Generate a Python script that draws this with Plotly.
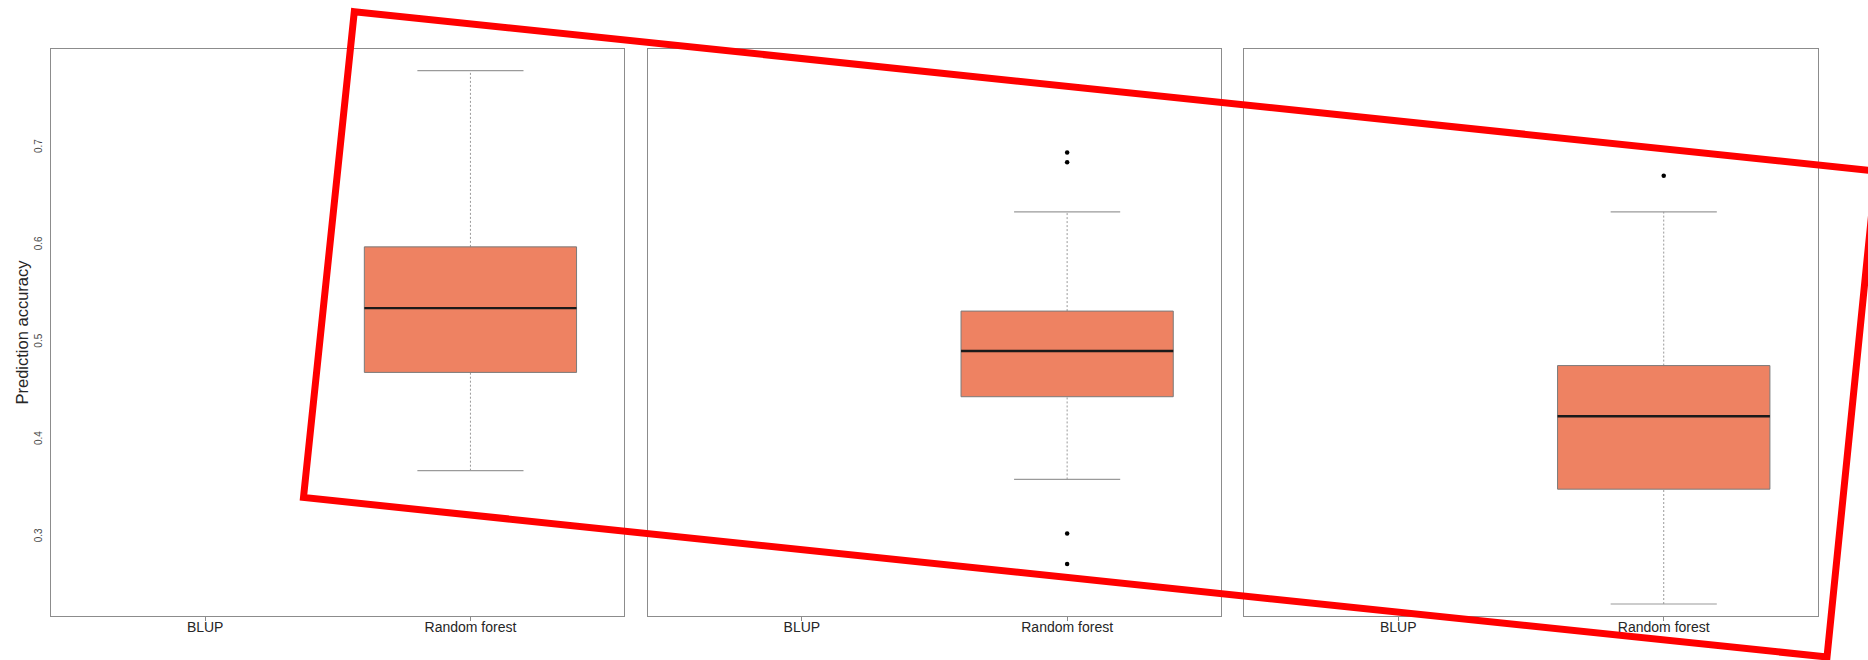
import plotly.graph_objects as go

# Figure size in pixels
W, H = 1868, 660

# Categories on each panel's x axis
categories = ["BLUP", "Random forest"]

# Random forest box statistics for the three panels
rf_lower = [0.368, 0.359, 0.231]
rf_q1 = [0.469, 0.444, 0.349]
rf_median = [0.535, 0.491, 0.424]
rf_q3 = [0.598, 0.532, 0.476]
rf_upper = [0.779, 0.634, 0.634]
rf_outliers = [[], [0.695, 0.685, 0.3035, 0.272], [0.671]]

# y tick labels
y_ticks = [0.3, 0.4, 0.5, 0.6, 0.7]
y_ticktext = ["0.3", "0.4", "0.5", "0.6", "0.7"]

# Panel placement (pixels) and shared value range
panel_px = [(51.3, 624.3), (648.0, 1221.0), (1244.3, 1817.7)]
plot_top, plot_bottom = 49.3, 615.7
y_range = [0.219, 0.801]
x_range = [0.42, 2.58]

box_fill = "#EE8262"
box_line = "#7a7a7a"
frame_col = "#8c8c8c"
whisk_col = "#9a9a9a"
font_fam = "Liberation Sans, Arial, sans-serif"

fig = go.Figure()
shapes = []
layout_axes = {}

rf_pos = categories.index("Random forest") + 1
half_box = 0.4
half_cap = 0.2

for i in range(3):
    xa = "x" if i == 0 else f"x{i + 1}"
    ya = "y" if i == 0 else f"y{i + 1}"
    xkey = "xaxis" if i == 0 else f"xaxis{i + 1}"
    ykey = "yaxis" if i == 0 else f"yaxis{i + 1}"

    # whiskers (dashed) from box to caps
    for y0, y1 in ((rf_q3[i], rf_upper[i]), (rf_lower[i], rf_q1[i])):
        shapes.append(dict(type="line", xref=xa, yref=ya, x0=rf_pos, x1=rf_pos,
                           y0=y0, y1=y1, line=dict(color=whisk_col, width=1, dash="2px,2px")))
    # caps
    for yv in (rf_upper[i], rf_lower[i]):
        shapes.append(dict(type="line", xref=xa, yref=ya, x0=rf_pos - half_cap,
                           x1=rf_pos + half_cap, y0=yv, y1=yv,
                           line=dict(color=whisk_col, width=1.2)))
    # box body
    shapes.append(dict(type="rect", xref=xa, yref=ya, x0=rf_pos - half_box,
                       x1=rf_pos + half_box, y0=rf_q1[i], y1=rf_q3[i],
                       fillcolor=box_fill, line=dict(color=box_line, width=1)))
    # median
    shapes.append(dict(type="line", xref=xa, yref=ya, x0=rf_pos - half_box,
                       x1=rf_pos + half_box, y0=rf_median[i], y1=rf_median[i],
                       line=dict(color="#1a1a1a", width=2.4)))

    out = rf_outliers[i]
    fig.add_trace(go.Scatter(
        x=[rf_pos] * len(out) if out else [1, 2],
        y=out if out else [None, None],
        mode="markers", xaxis=xa, yaxis=ya, showlegend=False,
        marker=dict(color="black", size=4.5), hoverinfo="y"))

    x0p, x1p = panel_px[i]
    layout_axes[xkey] = dict(
        domain=[x0p / W, x1p / W], range=x_range, anchor=ya,
        tickmode="array", tickvals=[1, 2], ticktext=categories,
        showline=True, mirror=True, linecolor=frame_col, linewidth=1,
        ticks="outside", ticklen=4, tickcolor=frame_col, tickwidth=1,
        ticklabelstandoff=-6,
        showgrid=False, zeroline=False,
        tickfont=dict(family=font_fam, size=14, color="#262626"))
    layout_axes[ykey] = dict(
        domain=[1 - plot_bottom / H, 1 - plot_top / H], range=y_range, anchor=xa,
        tickmode="array", tickvals=y_ticks, ticktext=y_ticktext,
        showticklabels=(i == 0), tickangle=-90, ticks="",
        ticklabelstandoff=4,
        showline=True, mirror=True, linecolor=frame_col, linewidth=1,
        showgrid=False, zeroline=False,
        tickfont=dict(family=font_fam, size=10, color="#4a4a4a"))

# red outline drawn over the panels
red_corners = [(354.3, 11.7), (1876.0, 171.0), (1827.0, 657.0), (303.5, 497.5)]
path = "M " + " L ".join(f"{x / W:.5f},{1 - y / H:.5f}" for x, y in red_corners) + " Z"
shapes.append(dict(type="path", xref="paper", yref="paper", path=path,
                   line=dict(color="#FF0000", width=7), fillcolor="rgba(0,0,0,0)",
                   layer="above"))

fig.update_layout(
    width=W, height=H, autosize=False,
    margin=dict(l=0, r=0, t=0, b=0),
    paper_bgcolor="white", plot_bgcolor="white",
    showlegend=False, shapes=shapes,
    annotations=[dict(text="Prediction accuracy", xref="paper", yref="paper",
                      x=21 / W, y=1 - 332.5 / H, textangle=-90, showarrow=False,
                      xanchor="center", yanchor="middle",
                      font=dict(family=font_fam, size=16.5, color="#262626"))],
    **layout_axes)

fig.write_html("out.html")
